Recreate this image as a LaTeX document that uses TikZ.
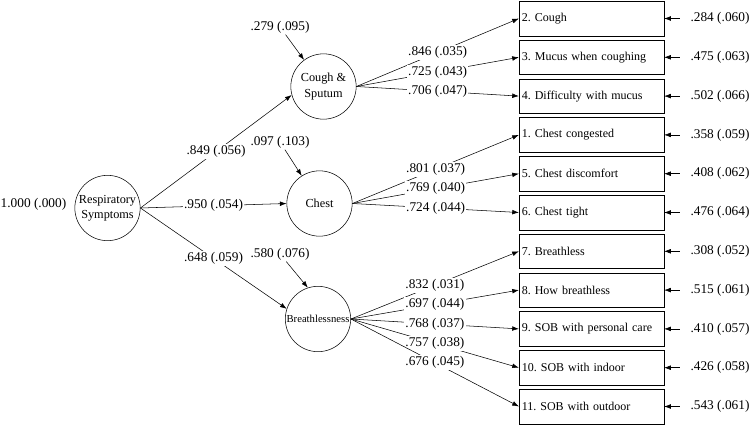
\documentclass[tikz,border=0pt]{standalone}
\usepackage{fontspec}
\setmainfont{Liberation Serif}
\usetikzlibrary{arrows.meta}
\frenchspacing

\begin{document}
\begin{tikzpicture}[x=0.75pt,y=-0.75pt,>={Latex[length=5pt,width=3.5pt]},
  latent/.style={circle, draw, minimum size=49pt, inner sep=0pt, align=center, font=\fontsize{9.2}{11.5}\selectfont},
  item/.style={draw, minimum height=25.9pt, text width=104.5pt, inner sep=2pt, align=left, font=\fontsize{9}{11}\selectfont},
  coef/.style={fill=white, inner sep=1pt},
  resid/.style={inner sep=1pt},
  errarrow/.style={->, shorten <=7pt}]
\useasboundingbox (0,0) rectangle (750,425);

% Latent variables
\node[latent] (resp) at (107.5,208) {Respiratory\\Symptoms};
\node[latent] (cough) at (323.5,86.5) {Cough \&\\Sputum};
\node[latent] (chest) at (319.5,203.5) {Chest};
\node[latent, font=\footnotesize] (breath) at (318,319) {Breathlessness};

% Latent residuals
\node (r0) at (33.5,204) {1.000 (.000)};
\node[resid] (d1) at (280,27) {.279 (.095)};
\node[resid] (d2) at (280,142) {.097 (.103)};
\node[resid] (d3) at (280,254) {.580 (.076)};

% Items
\node[item] (i2) at (591.5,18.5) {2. Cough};
\node[item] (i3) at (591.5,57.3) {3. Mucus when coughing};
\node[item] (i4) at (591.5,96.1) {4. Difficulty with mucus};
\node[item] (i1) at (591.5,134.9) {1. Chest congested};
\node[item] (i5) at (591.5,173.7) {5. Chest discomfort};
\node[item] (i6) at (591.5,212.5) {6. Chest tight};
\node[item] (i7) at (591.5,251.3) {7. Breathless};
\node[item] (i8) at (591.5,290.1) {8. How breathless};
\node[item] (i9) at (591.5,328.9) {9. SOB with personal care};
\node[item] (i10) at (591.5,367.7) {10. SOB with indoor};
\node[item] (i11) at (591.5,406.5) {11. SOB with outdoor};

% Item residuals
\node[resid] (e2) at (720,18.5) {.284 (.060)};
\node[resid] (e3) at (720,57.3) {.475 (.063)};
\node[resid] (e4) at (720,96.1) {.502 (.066)};
\node[resid] (e1) at (720,134.9) {.358 (.059)};
\node[resid] (e5) at (720,173.7) {.408 (.062)};
\node[resid] (e6) at (720,212.5) {.476 (.064)};
\node[resid] (e7) at (720,251.3) {.308 (.052)};
\node[resid] (e8) at (720,290.1) {.515 (.061)};
\node[resid] (e9) at (720,328.9) {.410 (.057)};
\node[resid] (e10) at (720,367.7) {.426 (.058)};
\node[resid] (e11) at (720,406.5) {.543 (.061)};

%Paths
\draw[->] (resp.east) -- node[coef] {.849 (.056)} (cough.195);
\draw[->] (resp.east) -- node[coef] {.950 (.054)} (chest.west);
\draw[->] (resp.east) -- node[coef] {.648 (.059)} (breath.162);
\draw[->] (d1) -- (cough);
\draw[->] (d2) -- (chest);
\draw[->] (d3) -- (breath.108);

%Loadings
\draw[->] (cough.east) -- node[coef] {.846 (.035)} (i2.west);
\draw[->] (cough.east) -- node[coef] {.725 (.043)} (i3.west);
\draw[->] (cough.east) -- node[coef] {.706 (.047)} (i4.west);
\draw[->] (chest.east) -- node[coef] {.801 (.037)} (i1.west);
\draw[->] (chest.east) -- node[coef] {.769 (.040)} (i5.west);
\draw[->] (chest.east) -- node[coef] {.724 (.044)} (i6.west);
\draw[->] (breath.east) -- node[coef] {.832 (.031)} (i7.west);
\draw[->] (breath.east) -- node[coef] {.697 (.044)} (i8.west);
\draw[->] (breath.east) -- node[coef] {.768 (.037)} (i9.west);
\draw[->] (breath.east) -- node[coef] {.757 (.038)} (i10.west);
\draw[->] (breath.east) -- node[coef] {.676 (.045)} (i11.west);

%Errors
\draw[errarrow] (e2) -- (i2);
\draw[errarrow] (e3) -- (i3);
\draw[errarrow] (e4) -- (i4);
\draw[errarrow] (e1) -- (i1);
\draw[errarrow] (e5) -- (i5);
\draw[errarrow] (e6) -- (i6);
\draw[errarrow] (e7) -- (i7);
\draw[errarrow] (e8) -- (i8);
\draw[errarrow] (e9) -- (i9);
\draw[errarrow] (e10) -- (i10);
\draw[errarrow] (e11) -- (i11);
\end{tikzpicture}
\end{document}
